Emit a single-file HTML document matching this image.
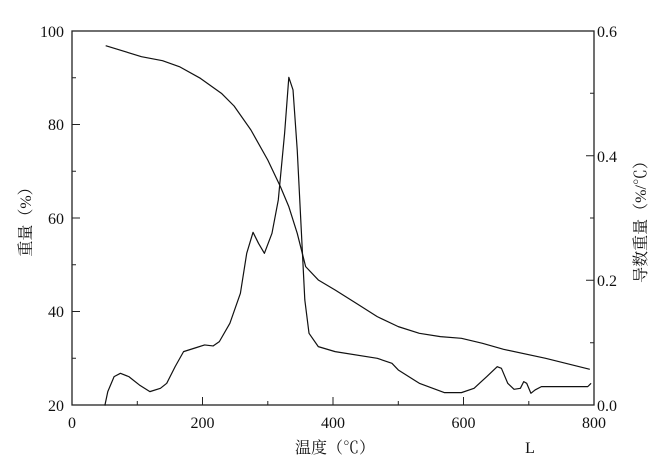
<!DOCTYPE html>
<html><head><meta charset="utf-8"><style>
body{margin:0;background:#fff}
svg{display:block}
text{font-family:"Liberation Serif","Noto Serif CJK SC",serif;font-size:16px;fill:#111}
</style></head><body>
<svg width="658" height="462" viewBox="0 0 658 462">
<rect x="72" y="31" width="522" height="374" fill="none" stroke="#222" stroke-width="1.3"/>
<g stroke="#222" stroke-width="1">
<path d="M72 31h8M72 77.7h4M72 124.5h8M72 171.2h4M72 218h8M72 264.7h4M72 311.5h8M72 358.2h4"/>
<path d="M594 31h-8M594 93.3h-4M594 155.7h-8M594 218h-4M594 280.3h-8M594 342.7h-4"/>
<path d="M137.3 405v-4M202.5 405v-8M267.8 405v-4M333 405v-8M398.3 405v-4M463.5 405v-8M528.8 405v-4"/>
</g>
<g text-anchor="end">
<text x="64" y="37">100</text><text x="64" y="130">80</text><text x="64" y="224">60</text><text x="64" y="317">40</text><text x="64" y="411">20</text>
</g>
<g>
<text x="597" y="37">0.6</text><text x="597" y="162">0.4</text><text x="597" y="286">0.2</text><text x="597" y="411">0.0</text>
</g>
<g text-anchor="middle">
<text x="72" y="428">0</text><text x="202.5" y="428">200</text><text x="333" y="428">400</text><text x="463.5" y="428">600</text><text x="594" y="428">800</text>
<text x="335" y="453">温度（℃）</text><text x="530" y="453">L</text>
</g>
<text transform="translate(31,218) rotate(-90)" text-anchor="middle">重量（%）</text>
<text transform="translate(646,218) rotate(-90)" text-anchor="middle">导数重量（%/℃）</text>
<g transform="matrix(0.421 0 0 0.3333 -1.675 0)" fill="none" stroke="#111" stroke-width="1.2" stroke-linejoin="round">
<polyline vector-effect="non-scaling-stroke" points="255,137 340,170 390,182 430,200 480,235 530,280 560,318 600,390 640,480 670,560 690,620 710,700 730,800 760,840 800,870 850,910 900,950 950,980 1000,1000 1050,1010 1100,1015 1150,1030 1200,1048 1300,1075 1405,1108"/>
<polyline vector-effect="non-scaling-stroke" points="253,1217 260,1175 275,1130 290,1120 310,1130 335,1155 360,1175 385,1165 400,1150 420,1100 440,1055 470,1043 490,1035 510,1038 525,1025 550,970 575,880 590,760 605,697 618,730 632,760 650,700 665,600 680,400 690,232 700,270 710,450 720,700 728,900 738,1000 760,1040 800,1055 900,1075 935,1090 950,1110 1000,1150 1060,1178 1100,1178 1130,1165 1160,1130 1185,1100 1195,1105 1210,1150 1225,1168 1240,1165 1248,1145 1255,1150 1265,1180 1275,1170 1290,1160 1400,1160 1408,1150"/>
</g>
</svg>
</body></html>
